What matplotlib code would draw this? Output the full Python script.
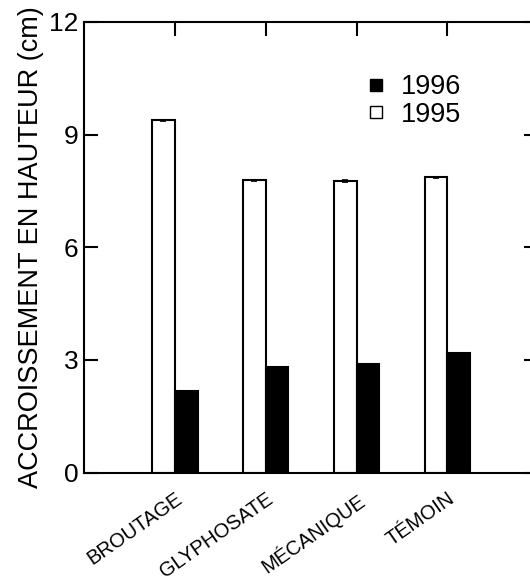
import numpy as np
import matplotlib.pyplot as plt
from matplotlib.lines import Line2D
from matplotlib.transforms import ScaledTranslation

plt.rcParams["font.family"] = ["Liberation Sans", "DejaVu Sans"]

# data
treatments = ["BROUTAGE", "GLYPHOSATE", "MÉCANIQUE", "TÉMOIN"]
growth_1995 = [9.38, 7.78, 7.76, 7.86]
growth_1996 = [2.16, 2.80, 2.89, 3.17]
err_1995 = [0.02, 0.02, 0.02, 0.02]
err_1996 = [0.01, 0.01, 0.01, 0.01]
yticks = [0, 3, 6, 9, 12]

x = np.arange(1, len(treatments) + 1)
width = 0.25

fig = plt.figure(figsize=(5.3, 5.85), dpi=100)
# right spine sits just outside the picture, like the scanned original
ax = fig.add_axes([0.1585, 0.1923, 0.857, 0.7701])

ax.bar(x, growth_1995, -width, align="edge", color="white", edgecolor="black",
       linewidth=1.5, yerr=err_1995, capsize=2,
       error_kw={"elinewidth": 1.0, "capthick": 1.2, "ecolor": "black"})
ax.bar(x, growth_1996, width, align="edge", color="black", edgecolor="black",
       linewidth=1.5, yerr=err_1996, capsize=2,
       error_kw={"elinewidth": 1.0, "capthick": 1.2, "ecolor": "black"})

ax.set_xlim(0, 5)
ax.set_ylim(0, 12)
ax.set_yticks(yticks)
ax.set_xticks(x)
ax.set_xticklabels(treatments, rotation=35, ha="right", va="top",
                   rotation_mode="anchor", fontsize=14.5)
for lab in ax.get_xticklabels():
    lab.set_transform(lab.get_transform() + ScaledTranslation(0.08, 0, fig.dpi_scale_trans))

ax.tick_params(axis="x", bottom=False, top=True, direction="in", length=10,
               width=1.5, pad=12)
ax.tick_params(axis="y", left=True, right=True, direction="in", length=10,
               width=1.5, labelsize=19, pad=4)
for sp in ax.spines.values():
    sp.set_linewidth(1.5)

ax.set_ylabel("ACCROISSEMENT EN HAUTEUR (cm)", fontsize=19.5, labelpad=4)

handles = [
    Line2D([], [], marker="s", linestyle="none", markersize=9,
           markerfacecolor="black", markeredgecolor="black"),
    Line2D([], [], marker="s", linestyle="none", markersize=9,
           markerfacecolor="white", markeredgecolor="black", markeredgewidth=1),
]
ax.legend(handles, ["1996", "1995"], loc="center left",
          bbox_to_anchor=(0.59, 0.825), frameon=False, fontsize=19.5,
          handlelength=0.8, handletextpad=0.5, labelspacing=0.05, borderpad=0)

fig.savefig("out.png", dpi=100)
